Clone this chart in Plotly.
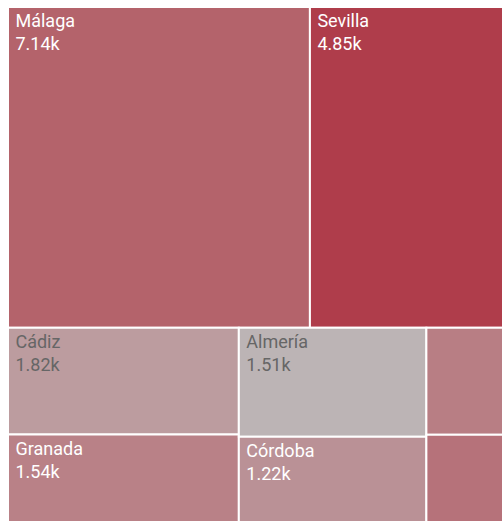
import plotly.graph_objects as go

provinces = ["Málaga", "Sevilla", "Cádiz", "Granada", "Almería", "Córdoba", "Jaén", "Huelva"]
values = [7140, 4850, 1820, 1540, 1510, 1220, 700, 590]
colors = ["#B4636B", "#AF3D4B", "#BC9C9F", "#B98187", "#BCB4B5", "#BA9196", "#B87E84", "#B6727A"]
text_colors = ["#FFFFFF", "#FFFFFF", "#666666", "#FFFFFF", "#666666", "#FFFFFF", "#FFFFFF", "#FFFFFF"]
templates = ["\u00a0%{label}<br>\u00a0%{value:.3s}"] * 6 + ["", ""]

fig = go.Figure(go.Treemap(
    labels=provinces,
    parents=[""] * len(provinces),
    values=values,
    marker=dict(colors=colors, line=dict(color="white", width=2),
                pad=dict(t=0, l=0, r=0, b=0)),
    texttemplate=templates,
    textposition="top left",
    textfont=dict(family="Roboto", size=18, color=text_colors),
    sort=True,
    tiling=dict(pad=0, squarifyratio=1.618),
    pathbar=dict(visible=False),
))
fig.update_layout(
    width=515, height=525,
    margin=dict(l=8, r=0, t=7, b=0),
    paper_bgcolor="white",
)
fig.write_html(
    "out.html",
    config={"responsive": False, "displayModeBar": False},
    post_script="document.body.style.margin='0';document.documentElement.style.overflow='hidden';document.body.style.overflow='hidden';",
)
